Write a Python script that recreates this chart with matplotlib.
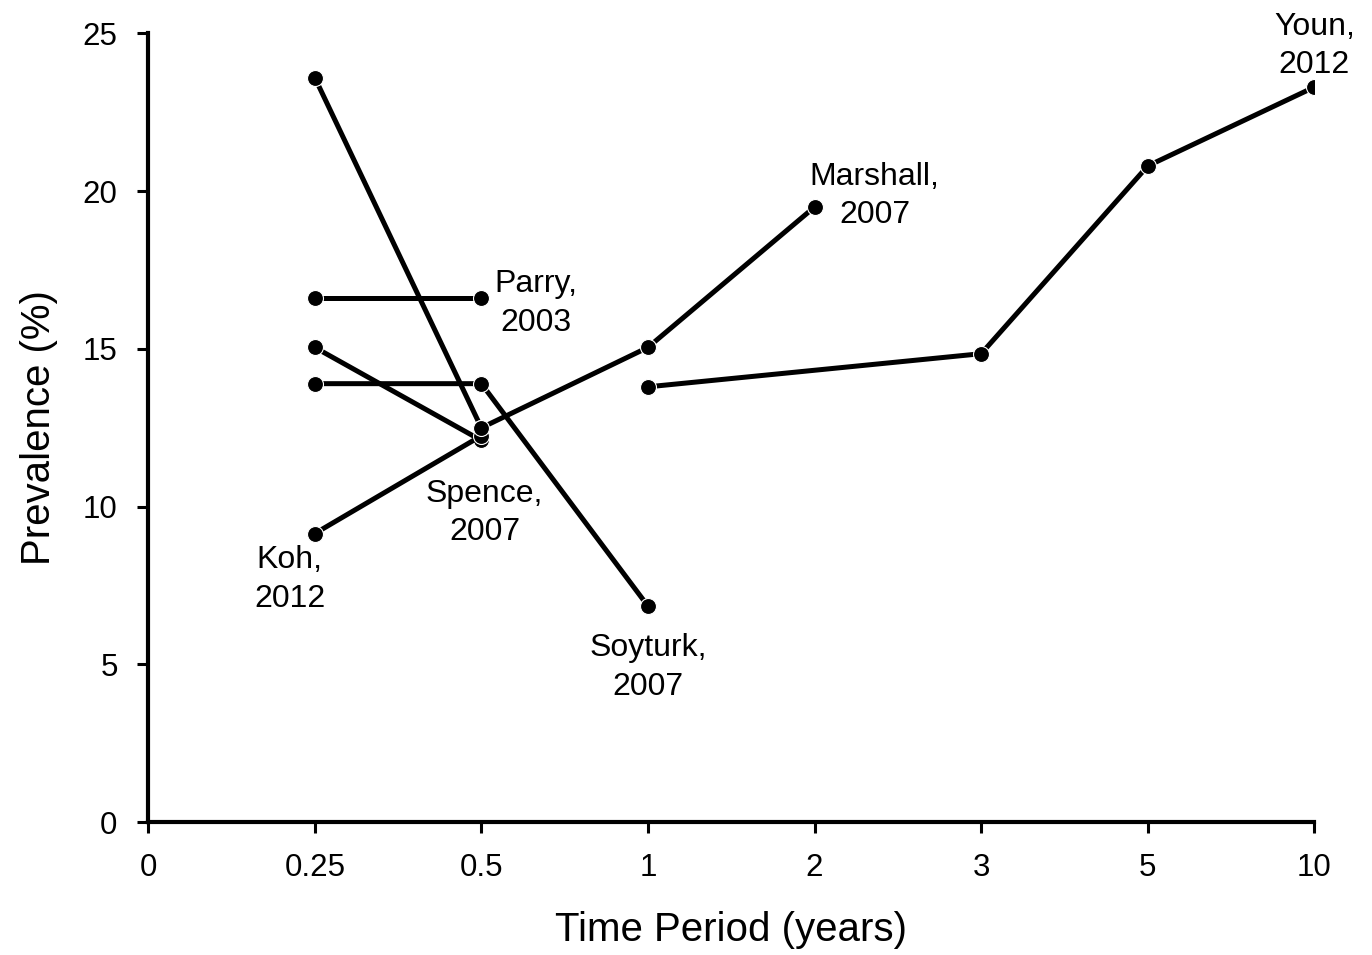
import numpy as np
import matplotlib.pyplot as plt

plt.rcParams['font.family'] = ['Liberation Sans', 'DejaVu Sans']

# categorical time periods on the x axis
periods = ['0', '0.25', '0.5', '1', '2', '3', '5', '10']

# each study: list of time periods and prevalence (%)
steep_t = ['0.25', '0.5']
steep_p = [23.6, 12.5]

parry_t = ['0.25', '0.5']
parry_p = [16.6, 16.6]

spence_t = ['0.25', '0.5']
spence_p = [15.05, 12.1]

soyturk_t = ['0.25', '0.5', '1']
soyturk_p = [13.9, 13.9, 6.85]

koh_t = ['0.25', '0.5']
koh_p = [9.15, 12.25]

marshall_t = ['0.5', '1', '2']
marshall_p = [12.5, 15.05, 19.5]

youn_t = ['1', '3', '5', '10']
youn_p = [13.8, 14.85, 20.8, 23.3]

studies = [(steep_t, steep_p), (parry_t, parry_p), (spence_t, spence_p),
           (soyturk_t, soyturk_p), (koh_t, koh_p), (marshall_t, marshall_p),
           (youn_t, youn_p)]

# label text and its position (period index, prevalence)
labels = ['Youn,\n2012', 'Marshall,\n2007', 'Parry,\n2003', 'Spence,\n2007',
          'Koh,\n2012', 'Soyturk,\n2007']
label_x = [7.0, 4.36, 2.33, 2.02, 0.85, 3.0]
label_y = [24.6, 19.85, 16.45, 9.8, 7.7, 4.9]

fig = plt.figure(figsize=(13.72, 9.55), dpi=100)
ax = fig.add_axes([0.108, 0.139, 0.85, 0.826])

for t, p in studies:
    x = [periods.index(v) for v in t]
    ax.plot(x, p, color='black', lw=3.6, marker='o', ms=11.5,
            mfc='black', mec='white', mew=0.8, solid_capstyle='round')

for txt, lx, ly in zip(labels, label_x, label_y):
    ax.text(lx, ly, txt, ha='center', va='center', fontsize=23,
            linespacing=1.38, clip_on=False)

ax.set_xlim(0, 7)
ax.set_ylim(0, 25)
ax.set_xticks(range(len(periods)))
ax.set_xticklabels(periods)
ax.set_yticks([0, 5, 10, 15, 20, 25])

ax.spines['top'].set_visible(False)
ax.spines['right'].set_visible(False)
ax.spines['left'].set_linewidth(3)
ax.spines['bottom'].set_linewidth(3)
ax.tick_params(direction='out', length=8, width=2.2, labelsize=22.5, pad=14)

ax.set_xlabel('Time Period (years)', fontsize=29, labelpad=20)
ax.set_ylabel('Prevalence (%)', fontsize=29, labelpad=18)

plt.savefig('out.png', dpi=100)
